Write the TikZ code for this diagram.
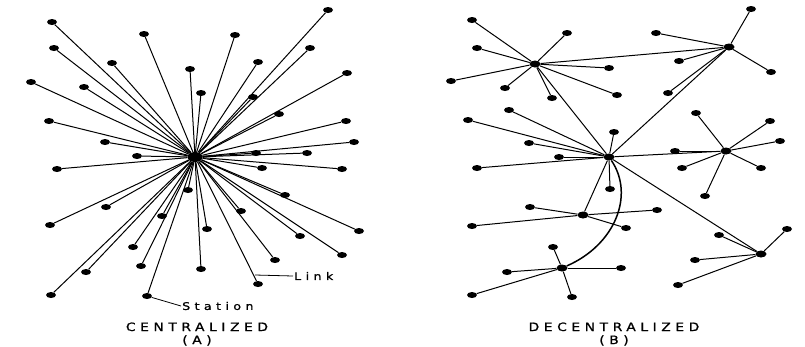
\documentclass[tikz,border=0pt]{standalone}
\usepackage{fontspec}
\usepackage{tikz}
\usetikzlibrary{shapes.geometric}

\newfontfamily\netfont[LetterSpace=40, FakeStretch=1.2, FakeBold=1]{DejaVu Sans}
\newfontfamily\tagfont[LetterSpace=42, FakeStretch=1.2, FakeBold=1]{DejaVu Sans}

\begin{document}
\begin{tikzpicture}[
    x=1pt, y=-1pt,
    station/.style={ellipse, fill=black, inner sep=0pt, minimum width=10pt, minimum height=6pt},
    hub/.style={station, minimum width=11pt, minimum height=7pt},
    link/.style={line width=1pt},
    leader/.style={line width=0.8pt},
    tag/.style={font=\fontsize{10.5}{12}\selectfont\tagfont, inner sep=1pt},
    caption/.style={font=\fontsize{11.5}{13}\selectfont\netfont, align=center, inner sep=0pt}
]
\useasboundingbox (0,0) rectangle (805,346);

% centralized net: every station tied to one hub
\node[hub, minimum width=15pt, minimum height=10pt] (hubA) at (195,157) {};
\foreach \x/\y [count=\i] in {
    52/22, 144/34, 54/48, 112/63, 190/69, 31/82, 84/87, 201/93,
    49/121, 105/142, 137/156, 57/169, 328/10, 235/35, 258/62, 310/48,
    347/73, 253/97, 279/114, 346/121, 354/142, 256/153, 307/153, 262/168,
    342/169, 188/190, 106/207, 162/216, 50/225, 133/247, 141/266, 86/272,
    201/269, 51/295, 147/296, 285/195, 241/211, 207/229, 359/231, 300/236,
    342/255, 275/260, 258/284}
{
    \node[station] (a\i) at (\x,\y) {};
    \draw[link] (hubA) -- (a\i);
}

% labels with leaders
\node[tag, anchor=west] (lnk) at (293,276) {Link};
\coordinate (lnkend) at (255,275);
\draw[leader] (lnk.west) -- (lnkend);
\node[tag, anchor=west] (sta) at (181,306) {Station};
\draw[leader] (a35) -- (sta.west);

\node[caption] (capA) at (197,334) {CENTRALIZED\\(A)};

% decentralized net: several hubs, each with its own stations
\node[hub] (h1) at (535,64) {};
\node[hub] (h2) at (729,47) {};
\node[hub] (h3) at (609,157) {};
\node[hub] (h4) at (726,151) {};
\node[hub] (h5) at (583,215) {};
\node[hub] (h6) at (562,268) {};
\node[hub] (h7) at (761,254) {};

\foreach \x/\y [count=\i] in {472/20, 567/33, 477/48, 451/81, 505/88, 552/98, 609/68, 617/95}
{
    \node[station] (s1-\i) at (\x,\y) {};
    \draw[link] (h1) -- (s1-\i);
}
\foreach \x/\y [count=\i] in {751/9, 656/33, 679/61, 771/72, 668/93}
{
    \node[station] (s2-\i) at (\x,\y) {};
    \draw[link] (h2) -- (s2-\i);
}
\foreach \x/\y [count=\i] in {509/110, 468/120, 529/143, 559/157, 477/168, 614/132, 610/189}
{
    \node[station] (s3-\i) at (\x,\y) {};
    \draw[link] (h3) -- (s3-\i);
}
\foreach \x/\y [count=\i] in {696/113, 770/121, 780/141, 675/151, 682/168, 761/168, 705/196}
{
    \node[station] (s4-\i) at (\x,\y) {};
    \draw[link] (h4) -- (s4-\i);
}
\foreach \x/\y [count=\i] in {530/207, 472/226, 657/210, 626/228}
{
    \node[station] (s5-\i) at (\x,\y) {};
    \draw[link] (h5) -- (s5-\i);
}
\foreach \x/\y [count=\i] in {553/247, 507/272, 472/295, 572/297, 621/268}
{
    \node[station] (s6-\i) at (\x,\y) {};
    \draw[link] (h6) -- (s6-\i);
}
\foreach \x/\y [count=\i] in {719/235, 787/229, 695/260, 678/285}
{
    \node[station] (s7-\i) at (\x,\y) {};
    \draw[link] (h7) -- (s7-\i);
}

% trunks between hubs
\draw[link] (h1) -- (h2);
\draw[link] (h1) -- (h3);
\draw[link] (h2) -- (h3);
\draw[link] (h3) -- (h4);
\draw[link] (h3) -- (h7);
\draw[link] (h3) -- (h5);
\draw[line width=1.5pt] (h3) .. controls (635,195) and (615,245) .. (h6);

\node[caption] (capB) at (614,334) {DECENTRALIZED\\(B)};
\end{tikzpicture}
\end{document}
